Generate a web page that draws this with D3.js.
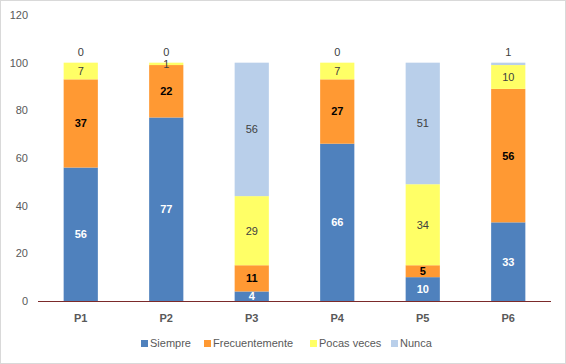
<!DOCTYPE html>
<html><head><meta charset="utf-8">
<script src="https://cdn.jsdelivr.net/npm/d3@7"></script>
<style>body{margin:0;background:#fff}svg{display:block}</style>
</head><body><svg id="c" width="566" height="364"></svg>
<script>
const categories = ["P1","P2","P3","P4","P5","P6"];
const seriesNames = ["Siempre","Frecuentemente","Pocas veces","Nunca"];
const siempre = [56,77,4,66,10,33];
const frecuentemente = [37,22,11,27,5,56];
const pocasVeces = [7,1,29,7,34,10];
const nunca = [0,0,56,0,51,1];
const yTicks = [0,20,40,60,80,100,120];
const colors = ["#4f81bd","#ff9933","#ffff66","#b9cfea"];
const labelColors = ["#ffffff","#000000","#404040","#404040"];
const labelWeights = ["bold","bold","normal","normal"];

const svg = d3.select("#c");
svg.append("rect").attr("x",0.5).attr("y",0.5).attr("width",565).attr("height",363)
  .attr("fill","#fff").attr("stroke","#d9d9d9");

const x = d3.scaleBand().domain(categories).range([38,551]).paddingInner(0.6).paddingOuter(0.3);
const y = d3.scaleLinear().domain([0,120]).range([301,15]);

const rows = categories.map((c,i)=>({cat:c, Siempre:siempre[i], Frecuentemente:frecuentemente[i], "Pocas veces":pocasVeces[i], Nunca:nunca[i]}));
const stacked = d3.stack().keys(seriesNames)(rows);

const font = "'Liberation Sans', Arial, sans-serif";

// y axis labels
svg.append("g").selectAll("text").data(yTicks).join("text")
  .attr("x",28).attr("y",d=>y(d)).attr("dy","0.35em").attr("text-anchor","end")
  .attr("font-family",font).attr("font-size",11).attr("fill","#595959").text(d=>d);

stacked.forEach((s,si)=>{
  svg.append("g").selectAll("rect").data(s).join("rect")
    .attr("x",d=>x(d.data.cat)).attr("width",x.bandwidth())
    .attr("y",d=>y(d[1])).attr("height",d=>y(d[0])-y(d[1]))
    .attr("fill",colors[si]);
});

stacked.forEach((s,si)=>{
  svg.append("g").selectAll("text").data(s).join("text")
    .attr("x",d=>x(d.data.cat)+x.bandwidth()/2)
    .attr("y",d=>{
      const v=d[1]-d[0];
      if(si===3 && v<=1) return y(d[1])-11;
      return (y(d[0])+y(d[1]))/2;
    })
    .attr("dy","0.36em").attr("text-anchor","middle")
    .attr("font-family",font).attr("font-size",11)
    .attr("font-weight",labelWeights[si])
    .attr("fill",d=>labelColors[si])
    .text(d=>d[1]-d[0]);
});

// x axis
svg.append("line").attr("x1",38).attr("x2",551).attr("y1",301.5).attr("y2",301.5)
  .attr("stroke","#7b2a2a").attr("stroke-width",1);
svg.append("g").selectAll("text").data(categories).join("text")
  .attr("x",d=>x(d)+x.bandwidth()/2).attr("y",318).attr("dy","0.35em")
  .attr("text-anchor","middle").attr("font-family",font).attr("font-size",11)
  .attr("font-weight","bold").attr("fill","#595959").text(d=>d);

// legend
const legX = [141,204,310,391];
const leg = svg.append("g");
seriesNames.forEach((n,i)=>{
  leg.append("rect").attr("x",legX[i]).attr("y",340).attr("width",7).attr("height",7).attr("fill",colors[i]);
  leg.append("text").attr("x",legX[i]+9).attr("y",343.5).attr("dy","0.35em")
    .attr("font-family",font).attr("font-size",11).attr("fill","#595959").text(n);
});
</script></body></html>
